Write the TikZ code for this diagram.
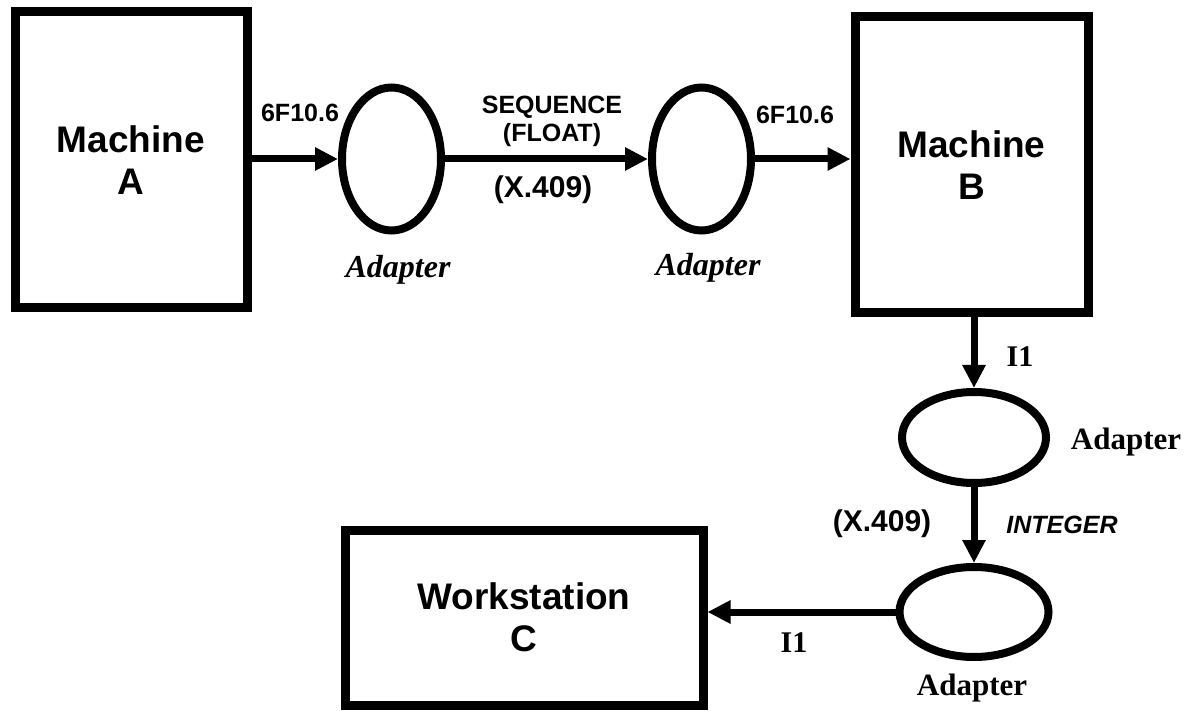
\documentclass[tikz,border=0pt]{standalone}
\usepackage{fontspec}
\setmainfont{Liberation Serif}
\setsansfont{Liberation Sans}
\usepackage{tikz}
\usetikzlibrary{positioning,shapes.geometric,arrows.meta}

\begin{document}
\begin{tikzpicture}[
        x=0.5pt, y=-0.5pt,
        box/.style={rectangle, draw, line width=4.5pt, align=center,
            font=\sffamily\bfseries\fontsize{18.5}{21}\selectfont},
        adapter/.style={ellipse, draw, line width=4pt, inner sep=0pt},
        flow/.style={line width=3.5pt, -{Triangle[length=11.5pt,width=11pt]}},
        tag/.style={align=center, font=\sffamily\bfseries\fontsize{12.5}{14}\selectfont},
        xtag/.style={font=\sffamily\bfseries\fontsize{15}{17}\selectfont},
        adname/.style={font=\bfseries\fontsize{15.5}{18}\selectfont},
        sig/.style={font=\bfseries\fontsize{15}{17}\selectfont}
    ]
        \useasboundingbox (0,0) rectangle (1190,711);

        % machines and workstation
        \node[box, minimum width=116pt, minimum height=148pt] (machA) at (131,160) {Machine\\A};
        \node[box, minimum width=116.5pt, minimum height=148pt] (machB) at (971.5,165) {Machine\\B};
        \node[box, minimum width=179pt, minimum height=87.5pt] (wsC) at (524,617.5) {Workstation\\C};

        % adapters
        \node[adapter, minimum width=49.5pt, minimum height=71.5pt] (adA) at (391.5,159) {};
        \node[adapter, minimum width=49.5pt, minimum height=71.5pt] (adB) at (701.5,159) {};
        \node[adapter, minimum width=72pt, minimum height=45.5pt] (adC) at (974,437.5) {};
        \node[adapter, minimum width=74.5pt, minimum height=45pt] (adD) at (974,612) {};

        \node[adname, font=\bfseries\itshape\fontsize{16}{18}\selectfont] (nameA) at (398,270) {Adapter};
        \node[adname, font=\bfseries\itshape\fontsize{16}{18}\selectfont] (nameB) at (708,268) {Adapter};
        \node[adname] (nameC) at (1126,442) {Adapter};
        \node[adname] (nameD) at (972,688) {Adapter};

        % connectors
        \draw[flow] (machA.east |- adA) -- (adA);
        \draw[flow] (adA) -- (adB);
        \draw[flow] (adB) -- (adB -| machB.west);
        \draw[flow] (adC.north |- machB.south) -- (adC.north);
        \draw[flow] (adC) -- (adD);
        \draw[flow] (adD) -- (adD -| wsC.east);

        % formats
        \node[tag] (fmtA) at (300,113) {6F10.6};
        \node[tag] (seq) at (552,121) {SEQUENCE\\(FLOAT)};
        \node[xtag] (xA) at (543,190) {(X.409)};
        \node[tag] (fmtB) at (795,115) {6F10.6};
        \node[sig] (iA) at (1020,357) {I1};
        \node[xtag] (xB) at (882,524) {(X.409)};
        \node[tag, font=\sffamily\bfseries\itshape\fontsize{12.5}{14}\selectfont] (intg) at (1062,525) {INTEGER};
        \node[sig] (iB) at (794,643) {I1};
    \end{tikzpicture}
\end{document}
